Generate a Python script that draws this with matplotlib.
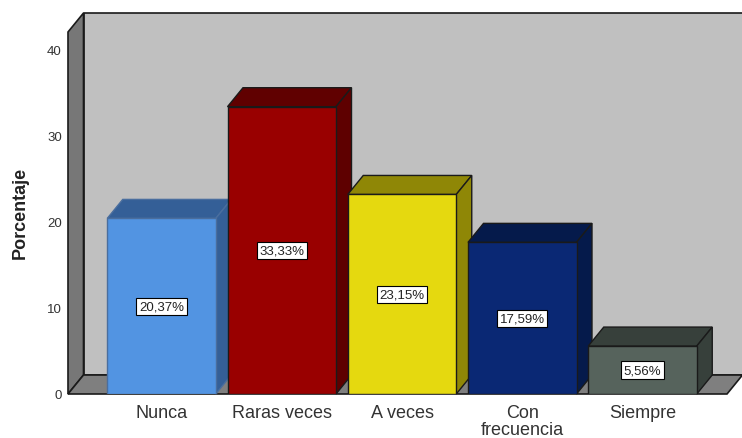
import matplotlib
matplotlib.use("Agg")
import matplotlib.pyplot as plt
from matplotlib.patches import Polygon, Rectangle

plt.rcParams["font.family"] = ["Liberation Sans", "DejaVu Sans"]

categories = ["Nunca", "Raras veces", "A veces", "Con\nfrecuencia", "Siempre"]
values = [20.37, 33.33, 23.15, 17.59, 5.56]
value_labels = ["20,37%", "33,33%", "23,15%", "17,59%", "5,56%"]
y_ticks = [0, 10, 20, 30, 40]

# front, top, side and edge colours of each bar
front_colors = ["#5294E2", "#990000", "#E5D90F", "#0A2874", "#56635C"]
top_colors = ["#345F97", "#600000", "#8F8706", "#051A4B", "#37403B"]
side_colors = ["#345F97", "#5E0000", "#8F8706", "#051A4B", "#37403B"]
edge_colors = ["#4A6E9E", "#1a1a1a", "#1a1a1a", "#1a1a1a", "#1a1a1a"]

W, H = 742, 439
LEFT, RIGHT, BOTTOM, TOP = 68, 727, 395, 33
CENTER0 = 161.5  # pixel of the first category
PX_X = 120.25   # pixels per category
PX_Y = 8.62     # pixels per percent
DX = 15.5 / PX_X   # depth offset, data units
DY = 19 / PX_Y
BAR_W = 108.5 / PX_X

fig = plt.figure(figsize=(W / 100, H / 100), dpi=100)
ax = fig.add_axes([LEFT / W, 1 - BOTTOM / H, (RIGHT - LEFT) / W, (BOTTOM - TOP) / H])
x0 = (LEFT - CENTER0) / PX_X
x1 = (RIGHT - CENTER0) / PX_X
y1 = (BOTTOM - TOP) / PX_Y
ax.set_xlim(x0, x1)
ax.set_ylim(0, y1)
for s in ax.spines.values():
    s.set_visible(False)
ax.patch.set_visible(False)


def poly(points, fc, ec="#1a1a1a", lw=1.0, z=1):
    ax.add_patch(Polygon(points, closed=True, fc=fc, ec=ec, lw=lw, zorder=z, clip_on=False))


# back wall, side wall, floor
poly([(x0 + DX, DY), (x1 + DX, DY), (x1 + DX, y1 + DY), (x0 + DX, y1 + DY)], "#C0C0C0", lw=1.2)
poly([(x0, 0), (x0 + DX, DY), (x0 + DX, y1 + DY), (x0, y1)], "#777777", lw=1.2)
poly([(x0, 0), (x1, 0), (x1 + DX, DY), (x0 + DX, DY)], "#7F7F7F", lw=1.2)

# bars with their top and side faces
for i, v in enumerate(values):
    l = i - BAR_W / 2
    r = i + BAR_W / 2
    ec = edge_colors[i]
    poly([(l, v), (r, v), (r + DX, v + DY), (l + DX, v + DY)], top_colors[i], ec=ec, z=2 + i)
    poly([(r, 0), (r + DX, DY), (r + DX, v + DY), (r, v)], side_colors[i], ec=ec, z=2 + i)
    ax.add_patch(Rectangle((l, 0), BAR_W, v, fc=front_colors[i], ec=ec, lw=1.0, zorder=2 + i))
    ax.text(i, v / 2, value_labels[i], ha="center", va="center", fontsize=9.5, color="#222222", zorder=20,
            bbox=dict(boxstyle="square,pad=0.2", fc="white", ec="black", lw=0.8))

ax.set_yticks(y_ticks)
ax.set_xticks(range(len(categories)))
ax.set_xticklabels(categories, fontsize=13, color="#333333", linespacing=1.0)
ax.tick_params(axis="x", length=0, pad=7.5)
ax.tick_params(axis="y", length=0, pad=4.5, labelsize=9.5, labelcolor="#333333")
ax.set_ylabel("Porcentaje", fontsize=13, fontweight="bold", color="#222222")
ax.yaxis.set_label_coords(-0.059, 0.504)

fig.savefig("out.png", dpi=100)
